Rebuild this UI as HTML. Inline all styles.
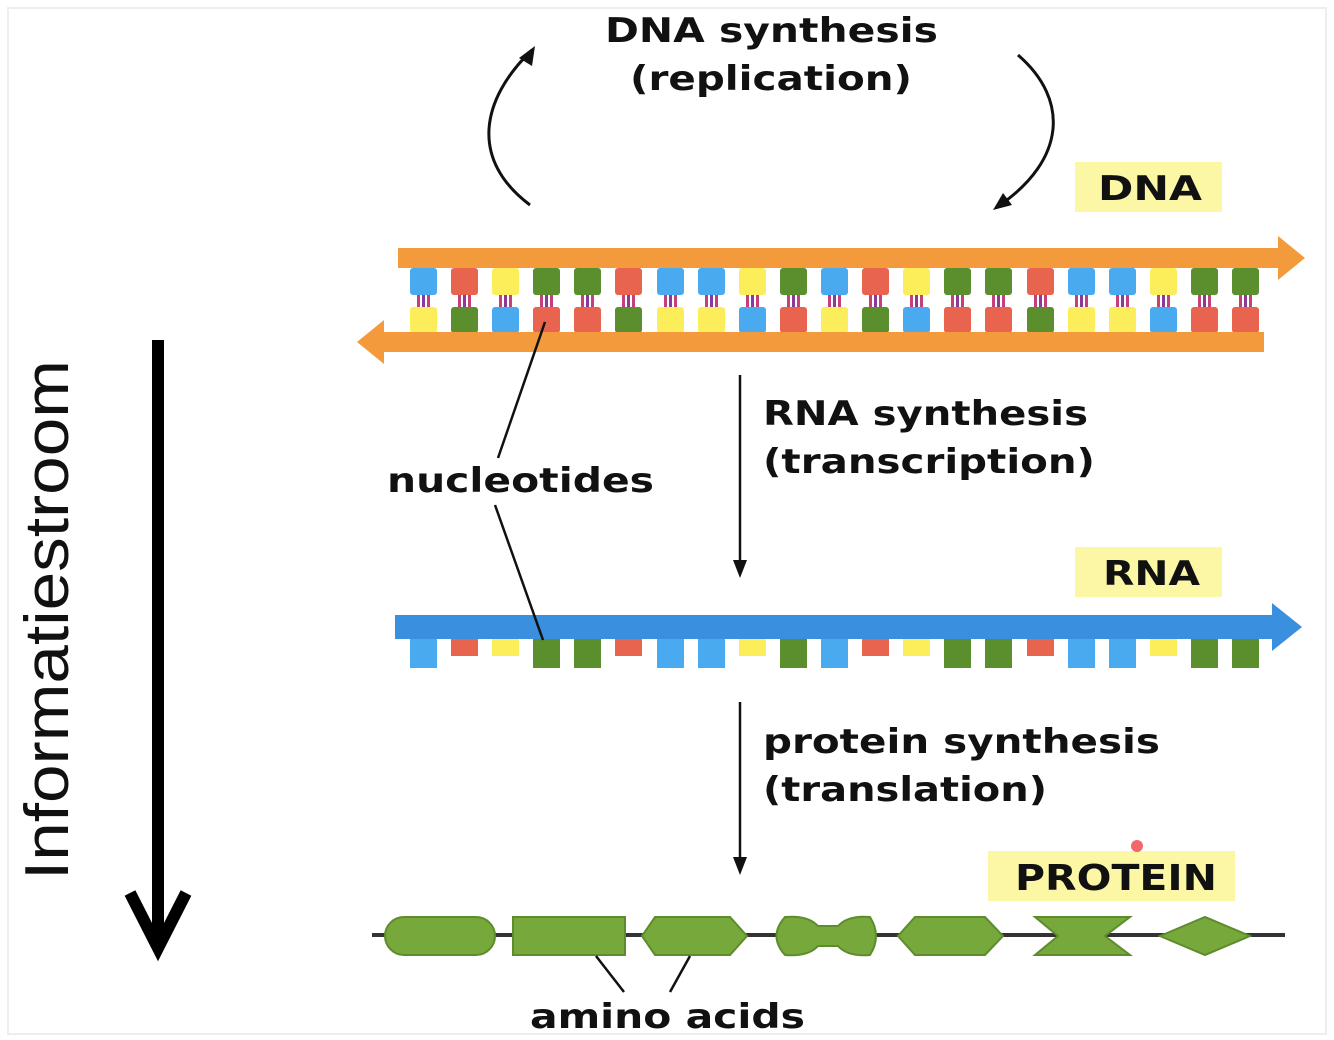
<!DOCTYPE html>
<html><head><style>
body{margin:0;background:#fff}
svg{display:block}
text{font-family:"DejaVu Sans","Liberation Sans",sans-serif;font-weight:bold;fill:#111}
.b{fill:#4aaaf0}.r{fill:#e8644f}.y{fill:#fbee5a}.g{fill:#5b8f2e}
.p{fill:#c4407a}.q{fill:#8a3a9a}
</style></head><body>
<svg width="1334" height="1040" viewBox="0 0 1334 1040" xmlns="http://www.w3.org/2000/svg">
<rect width="1334" height="1040" fill="#fff"/>
<rect x="8" y="8" width="1318" height="1026" fill="none" stroke="#eee" stroke-width="2"/>
<path d="M530,205 C470,160 480,100 532,50" fill="none" stroke="#111" stroke-width="3"/>
<path d="M519,58 L535,46 L532,66 z" fill="#111"/>
<path d="M1018,55 C1070,100 1065,160 1000,205" fill="none" stroke="#111" stroke-width="3"/>
<path d="M993,210 L1003,193 L1012,205 z" fill="#111"/>
<text x="605" y="42" font-size="34" textLength="333" lengthAdjust="spacingAndGlyphs">DNA synthesis</text>
<text x="630" y="90" font-size="34" textLength="282" lengthAdjust="spacingAndGlyphs">(replication)</text>
<rect x="1075" y="162" width="147" height="50" fill="#fcf7a4"/>
<text x="1098" y="200" font-size="34" textLength="104" lengthAdjust="spacingAndGlyphs">DNA</text>
<rect x="1075" y="547" width="147" height="50" fill="#fcf7a4"/>
<text x="1103" y="585" font-size="34" textLength="97" lengthAdjust="spacingAndGlyphs">RNA</text>
<rect x="988" y="851" width="247" height="50" fill="#fcf7a4"/>
<text x="1015" y="890" font-size="36" textLength="202" lengthAdjust="spacingAndGlyphs">PROTEIN</text>
<circle cx="1137" cy="846" r="6" fill="#e44" opacity="0.8"/>

<g>
<!-- columns: class top, bottom, rna height -->
<g transform="translate(410,0)"><rect class="b" y="268" width="27" height="27" rx="3"/><rect class="p" x="7" y="295" width="3" height="14"/><rect class="q" x="12" y="295" width="3" height="14"/><rect class="p" x="17" y="295" width="3" height="14"/><rect class="y" y="307" width="27" height="26" rx="3"/><rect class="b" y="639" width="27" height="29"/></g>
<g transform="translate(451,0)"><rect class="r" y="268" width="27" height="27" rx="3"/><rect class="p" x="7" y="295" width="3" height="14"/><rect class="q" x="12" y="295" width="3" height="14"/><rect class="p" x="17" y="295" width="3" height="14"/><rect class="g" y="307" width="27" height="26" rx="3"/><rect class="r" y="639" width="27" height="17"/></g>
<g transform="translate(492,0)"><rect class="y" y="268" width="27" height="27" rx="3"/><rect class="p" x="7" y="295" width="3" height="14"/><rect class="q" x="12" y="295" width="3" height="14"/><rect class="p" x="17" y="295" width="3" height="14"/><rect class="b" y="307" width="27" height="26" rx="3"/><rect class="y" y="639" width="27" height="17"/></g>
<g transform="translate(533,0)"><rect class="g" y="268" width="27" height="27" rx="3"/><rect class="p" x="7" y="295" width="3" height="14"/><rect class="q" x="12" y="295" width="3" height="14"/><rect class="p" x="17" y="295" width="3" height="14"/><rect class="r" y="307" width="27" height="26" rx="3"/><rect class="g" y="639" width="27" height="29"/></g>
<g transform="translate(574,0)"><rect class="g" y="268" width="27" height="27" rx="3"/><rect class="p" x="7" y="295" width="3" height="14"/><rect class="q" x="12" y="295" width="3" height="14"/><rect class="p" x="17" y="295" width="3" height="14"/><rect class="r" y="307" width="27" height="26" rx="3"/><rect class="g" y="639" width="27" height="29"/></g>
<g transform="translate(615,0)"><rect class="r" y="268" width="27" height="27" rx="3"/><rect class="p" x="7" y="295" width="3" height="14"/><rect class="q" x="12" y="295" width="3" height="14"/><rect class="p" x="17" y="295" width="3" height="14"/><rect class="g" y="307" width="27" height="26" rx="3"/><rect class="r" y="639" width="27" height="17"/></g>
<g transform="translate(657,0)"><rect class="b" y="268" width="27" height="27" rx="3"/><rect class="p" x="7" y="295" width="3" height="14"/><rect class="q" x="12" y="295" width="3" height="14"/><rect class="p" x="17" y="295" width="3" height="14"/><rect class="y" y="307" width="27" height="26" rx="3"/><rect class="b" y="639" width="27" height="29"/></g>
<g transform="translate(698,0)"><rect class="b" y="268" width="27" height="27" rx="3"/><rect class="p" x="7" y="295" width="3" height="14"/><rect class="q" x="12" y="295" width="3" height="14"/><rect class="p" x="17" y="295" width="3" height="14"/><rect class="y" y="307" width="27" height="26" rx="3"/><rect class="b" y="639" width="27" height="29"/></g>
<g transform="translate(739,0)"><rect class="y" y="268" width="27" height="27" rx="3"/><rect class="p" x="7" y="295" width="3" height="14"/><rect class="q" x="12" y="295" width="3" height="14"/><rect class="p" x="17" y="295" width="3" height="14"/><rect class="b" y="307" width="27" height="26" rx="3"/><rect class="y" y="639" width="27" height="17"/></g>
<g transform="translate(780,0)"><rect class="g" y="268" width="27" height="27" rx="3"/><rect class="p" x="7" y="295" width="3" height="14"/><rect class="q" x="12" y="295" width="3" height="14"/><rect class="p" x="17" y="295" width="3" height="14"/><rect class="r" y="307" width="27" height="26" rx="3"/><rect class="g" y="639" width="27" height="29"/></g>
<g transform="translate(821,0)"><rect class="b" y="268" width="27" height="27" rx="3"/><rect class="p" x="7" y="295" width="3" height="14"/><rect class="q" x="12" y="295" width="3" height="14"/><rect class="p" x="17" y="295" width="3" height="14"/><rect class="y" y="307" width="27" height="26" rx="3"/><rect class="b" y="639" width="27" height="29"/></g>
<g transform="translate(862,0)"><rect class="r" y="268" width="27" height="27" rx="3"/><rect class="p" x="7" y="295" width="3" height="14"/><rect class="q" x="12" y="295" width="3" height="14"/><rect class="p" x="17" y="295" width="3" height="14"/><rect class="g" y="307" width="27" height="26" rx="3"/><rect class="r" y="639" width="27" height="17"/></g>
<g transform="translate(903,0)"><rect class="y" y="268" width="27" height="27" rx="3"/><rect class="p" x="7" y="295" width="3" height="14"/><rect class="q" x="12" y="295" width="3" height="14"/><rect class="p" x="17" y="295" width="3" height="14"/><rect class="b" y="307" width="27" height="26" rx="3"/><rect class="y" y="639" width="27" height="17"/></g>
<g transform="translate(944,0)"><rect class="g" y="268" width="27" height="27" rx="3"/><rect class="p" x="7" y="295" width="3" height="14"/><rect class="q" x="12" y="295" width="3" height="14"/><rect class="p" x="17" y="295" width="3" height="14"/><rect class="r" y="307" width="27" height="26" rx="3"/><rect class="g" y="639" width="27" height="29"/></g>
<g transform="translate(985,0)"><rect class="g" y="268" width="27" height="27" rx="3"/><rect class="p" x="7" y="295" width="3" height="14"/><rect class="q" x="12" y="295" width="3" height="14"/><rect class="p" x="17" y="295" width="3" height="14"/><rect class="r" y="307" width="27" height="26" rx="3"/><rect class="g" y="639" width="27" height="29"/></g>
<g transform="translate(1027,0)"><rect class="r" y="268" width="27" height="27" rx="3"/><rect class="p" x="7" y="295" width="3" height="14"/><rect class="q" x="12" y="295" width="3" height="14"/><rect class="p" x="17" y="295" width="3" height="14"/><rect class="g" y="307" width="27" height="26" rx="3"/><rect class="r" y="639" width="27" height="17"/></g>
<g transform="translate(1068,0)"><rect class="b" y="268" width="27" height="27" rx="3"/><rect class="p" x="7" y="295" width="3" height="14"/><rect class="q" x="12" y="295" width="3" height="14"/><rect class="p" x="17" y="295" width="3" height="14"/><rect class="y" y="307" width="27" height="26" rx="3"/><rect class="b" y="639" width="27" height="29"/></g>
<g transform="translate(1109,0)"><rect class="b" y="268" width="27" height="27" rx="3"/><rect class="p" x="7" y="295" width="3" height="14"/><rect class="q" x="12" y="295" width="3" height="14"/><rect class="p" x="17" y="295" width="3" height="14"/><rect class="y" y="307" width="27" height="26" rx="3"/><rect class="b" y="639" width="27" height="29"/></g>
<g transform="translate(1150,0)"><rect class="y" y="268" width="27" height="27" rx="3"/><rect class="p" x="7" y="295" width="3" height="14"/><rect class="q" x="12" y="295" width="3" height="14"/><rect class="p" x="17" y="295" width="3" height="14"/><rect class="b" y="307" width="27" height="26" rx="3"/><rect class="y" y="639" width="27" height="17"/></g>
<g transform="translate(1191,0)"><rect class="g" y="268" width="27" height="27" rx="3"/><rect class="p" x="7" y="295" width="3" height="14"/><rect class="q" x="12" y="295" width="3" height="14"/><rect class="p" x="17" y="295" width="3" height="14"/><rect class="r" y="307" width="27" height="26" rx="3"/><rect class="g" y="639" width="27" height="29"/></g>
<g transform="translate(1232,0)"><rect class="g" y="268" width="27" height="27" rx="3"/><rect class="p" x="7" y="295" width="3" height="14"/><rect class="q" x="12" y="295" width="3" height="14"/><rect class="p" x="17" y="295" width="3" height="14"/><rect class="r" y="307" width="27" height="26" rx="3"/><rect class="g" y="639" width="27" height="29"/></g>
</g>

<rect x="398" y="248" width="884" height="20" fill="#f39a3c"/>
<path d="M1278,236 L1305,258 L1278,280 z" fill="#f39a3c"/>
<rect x="380" y="332" width="884" height="20" fill="#f39a3c"/>
<path d="M384,320 L357,342 L384,364 z" fill="#f39a3c"/>
<rect x="395" y="615" width="882" height="24" fill="#3a8fde"/>
<path d="M1272,603 L1302,627 L1272,651 z" fill="#3a8fde"/>

<line x1="545" y1="322" x2="498" y2="458" stroke="#111" stroke-width="2.5"/>
<line x1="495" y1="505" x2="543" y2="640" stroke="#111" stroke-width="2.5"/>
<text x="387" y="492" font-size="34" textLength="267" lengthAdjust="spacingAndGlyphs">nucleotides</text>
<line x1="740" y1="375" x2="740" y2="565" stroke="#111" stroke-width="2.5"/>
<path d="M733,560 L740,578 L747,560 z" fill="#111"/>
<text x="763" y="425" font-size="34" textLength="325" lengthAdjust="spacingAndGlyphs">RNA synthesis</text>
<text x="763" y="473" font-size="34" textLength="332" lengthAdjust="spacingAndGlyphs">(transcription)</text>
<line x1="740" y1="702" x2="740" y2="862" stroke="#111" stroke-width="2.5"/>
<path d="M733,857 L740,875 L747,857 z" fill="#111"/>
<text x="763" y="753" font-size="34" textLength="397" lengthAdjust="spacingAndGlyphs">protein synthesis</text>
<text x="763" y="801" font-size="34" textLength="284" lengthAdjust="spacingAndGlyphs">(translation)</text>

<line x1="372" y1="935" x2="1285" y2="935" stroke="#333" stroke-width="4"/>
<g fill="#76a83c" stroke="#5e8c2c" stroke-width="2">
<rect x="385" y="917" width="110" height="38" rx="19"/>
<rect x="513" y="917" width="112" height="38"/>
<path d="M655,917 L730,917 L747,936 L730,955 L655,955 L642,936 z"/>
<path d="M785,917 Q808,915 818,926 L838,926 Q848,915 870,917 Q882,936 870,955 Q848,957 838,946 L818,946 Q808,957 785,955 Q768,936 785,917 z"/>
<path d="M915,917 L985,917 L1003,936 L985,955 L915,955 L898,936 z"/>
<path d="M1035,917 L1130,917 L1105,936 L1130,955 L1035,955 L1058,936 z"/>
<path d="M1160,936 L1205,917 L1250,936 L1205,955 z"/>
</g>
<line x1="596" y1="956" x2="624" y2="992" stroke="#111" stroke-width="2.5"/>
<line x1="690" y1="956" x2="670" y2="992" stroke="#111" stroke-width="2.5"/>
<text x="530" y="1028" font-size="34" textLength="275" lengthAdjust="spacingAndGlyphs">amino acids</text>

<line x1="158" y1="340" x2="158" y2="945" stroke="#000" stroke-width="12"/>
<path d="M130,893 L158,948 L186,893" fill="none" stroke="#000" stroke-width="12"/>
<text transform="translate(68,880) rotate(-90)" font-size="62" style="font-weight:normal;font-family:'Liberation Sans',sans-serif" textLength="520" lengthAdjust="spacingAndGlyphs">Informatiestroom</text>
</svg>
</body></html>
